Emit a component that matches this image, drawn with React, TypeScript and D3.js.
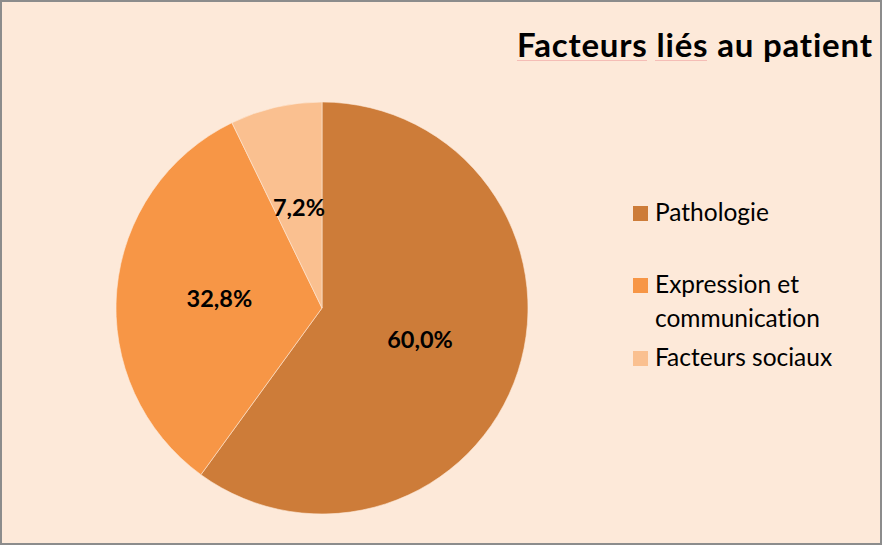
import React from "react";
import * as d3 from "d3";

const categories = ["Pathologie", "Expression et communication", "Facteurs sociaux"];
const legendLines = [["Pathologie"], ["Expression et", "communication"], ["Facteurs sociaux"]];
const values = [60.0, 32.8, 7.2];
const labels = ["60,0%", "32,8%", "7,2%"];
const colors = ["#CD7C39", "#F79646", "#FAC090"];
const title = "Facteurs liés au patient";

const W = 882;
const H = 545;
const cx = 322;
const cy = 308;
const R = 206;
const FONT = "Lato, 'Open Sans', sans-serif";
const noLig = { fontVariantLigatures: "none", fontFeatureSettings: "'liga' 0, 'clig' 0" } as React.CSSProperties;

export default function App() {
  const pie = d3.pie<number>().sort(null).value((d) => d)(values);
  const arc = d3.arc<d3.PieArcDatum<number>>().innerRadius(0).outerRadius(R);
  const labelArc = d3.arc<d3.PieArcDatum<number>>().innerRadius(R / 2).outerRadius(R / 2);

  const legendY = [221, 293, 366];
  return (
    <svg
      width={W}
      height={H}
      style={{ position: "absolute", left: 0, top: 0 }}
      xmlns="http://www.w3.org/2000/svg"
    >
      <rect x={1} y={1} width={W - 2} height={H - 2} fill="#FDE9D9" stroke="#8C8C8C" strokeWidth={2} />
      <text x={517} y={57} textLength={355} lengthAdjust="spacing" fontFamily={FONT} fontWeight="bold" fontSize={33} fill="#000" style={noLig}>
        {title}
      </text>
      <line x1={517} x2={647} y1={60.5} y2={60.5} stroke="#F5BDB6" strokeWidth={1} />
      <line x1={655} x2={707} y1={60.5} y2={60.5} stroke="#F5BDB6" strokeWidth={1} />
      <g transform={`translate(${cx},${cy})`}>
        {pie.map((p, i) => (
          <path key={i} d={arc(p) || ""} fill={colors[i]} stroke="#FDE9D9" strokeWidth={0.6} />
        ))}
        {pie.map((p, i) => {
          const [x, y] = labelArc.centroid(p);
          return (
            <text
              key={"l" + i}
              x={x}
              y={y}
              dy="0.35em"
              textAnchor="middle"
              fontFamily={FONT}
              fontWeight="bold"
              fontSize={23.5}
              fill="#000"
            >
              {labels[i]}
            </text>
          );
        })}
      </g>
      {categories.map((c, i) => (
        <g key={c}>
          <rect x={633} y={legendY[i] - 15} width={15} height={15} fill={colors[i]} />
          <text x={655} y={legendY[i]} fontFamily={FONT} fontSize={24.5} fill="#000" style={noLig}>
            {legendLines[i].map((ln, j) => (
              <tspan key={j} x={655} y={legendY[i] + j * 34}>
                {ln}
              </tspan>
            ))}
          </text>
        </g>
      ))}
    </svg>
  );
}
